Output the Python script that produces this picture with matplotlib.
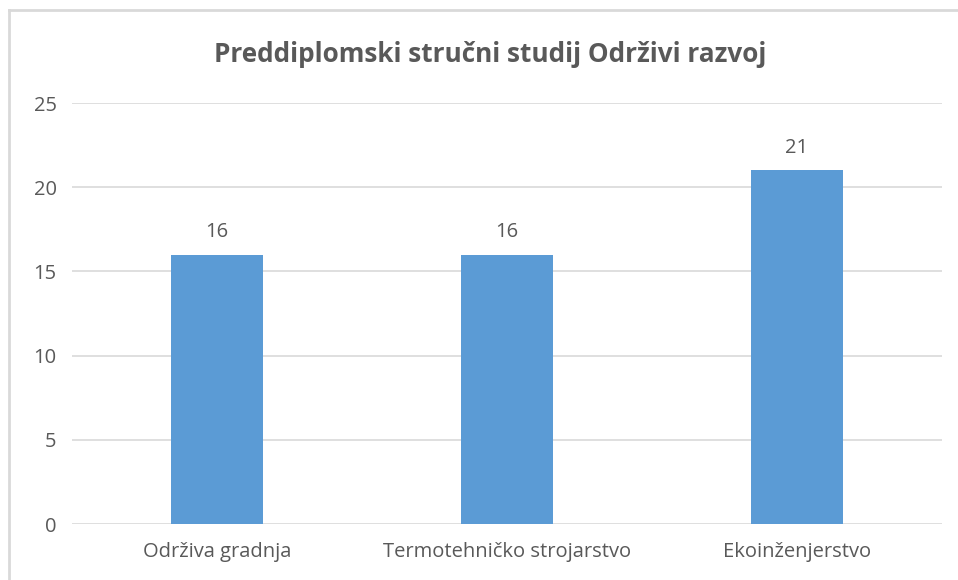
import matplotlib
matplotlib.use("Agg")
import matplotlib.pyplot as plt
from matplotlib.lines import Line2D

categories = ["Održiva gradnja", "Termotehničko strojarstvo", "Ekoinženjerstvo"]
values = [16, 16, 21]
yticks = [0, 5, 10, 15, 20, 25]
title = "Preddiplomski stručni studij Održivi razvoj"

plt.rcParams['font.family'] = ['Open Sans', 'DejaVu Sans']
txt = "#595959"
grid = "#d9d9d9"
bar_color = "#5B9BD5"

W, H = 958, 580
fig = plt.figure(figsize=(W / 100, H / 100), dpi=100)
ax = fig.add_axes([72 / W, 1 - 524 / H, (942 - 72) / W, (524 - 103) / H])

x = list(range(len(categories)))
ax.bar(x, values, width=0.315, color=bar_color, zorder=3)
ax.set_xlim(-0.5, len(categories) - 0.5)
ax.set_ylim(0, 25)
ax.set_yticks(yticks)
ax.set_yticklabels([str(t) for t in yticks], fontsize=14.5, color=txt)
ax.set_xticks(x)
ax.set_xticklabels(categories, fontsize=14.5, color=txt)
ax.tick_params(axis='both', length=0)
ax.tick_params(axis='y', pad=11)
ax.tick_params(axis='x', pad=13)
ax.grid(axis='y', color=grid, linewidth=1.2, zorder=0)
for s in ax.spines.values():
    s.set_visible(False)
for xi, v in zip(x, values):
    ax.annotate(str(v), (xi, v), xytext=(0, 9), textcoords='offset points',
                ha='center', va='bottom', fontsize=14.5, color=txt)

fig.text(490 / W, 1 - 55 / H, title, ha='center', va='center',
         fontsize=18.8, fontweight='bold', color=txt)

# chart border
fig.add_artist(Line2D([9 / W, 9 / W], [0, 1 - 10 / H], color=grid, linewidth=2, transform=fig.transFigure))
fig.add_artist(Line2D([9 / W, 1], [1 - 10 / H, 1 - 10 / H], color=grid, linewidth=2, transform=fig.transFigure))

fig.savefig("out.png", dpi=100)
